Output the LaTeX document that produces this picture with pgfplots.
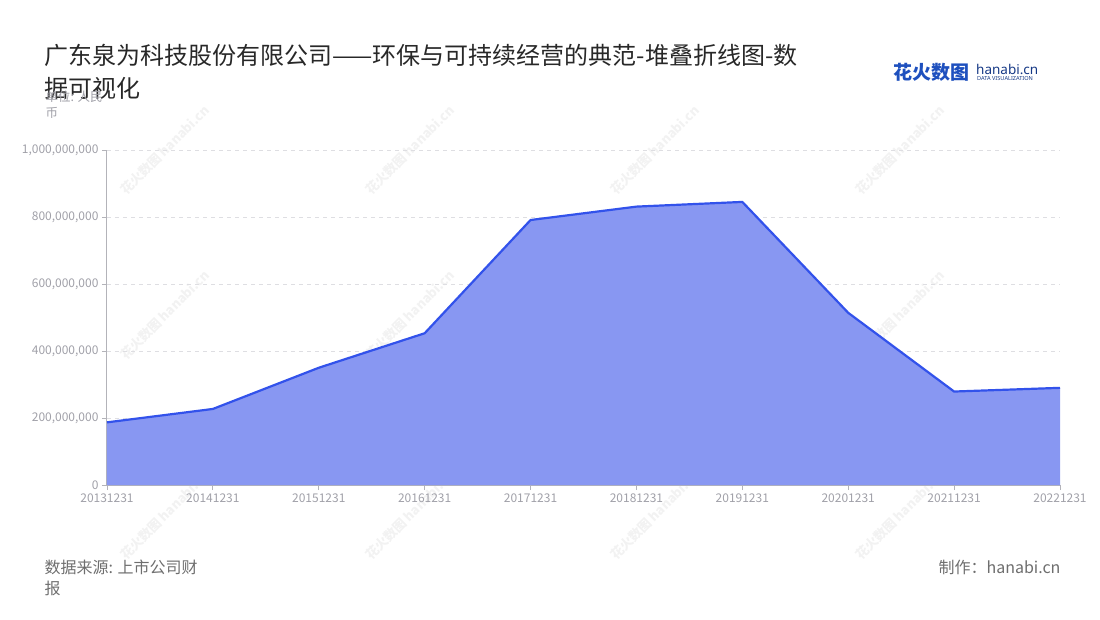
\documentclass[border=0pt]{standalone}
\usepackage{pgfplots}
\pgfplotsset{compat=1.18}
\usepackage{fontspec}
\setmainfont{Noto Sans CJK SC}
\newfontfamily\latinfont{Noto Sans}
\definecolor{linec}{RGB}{50,82,235}
\definecolor{fillc}{RGB}{136,151,242}
\definecolor{tickc}{RGB}{160,160,168}
\definecolor{gridc}{RGB}{222,222,226}
\definecolor{titlec}{RGB}{40,40,40}
\definecolor{notec}{RGB}{110,110,110}
\definecolor{logoc}{RGB}{30,80,190}
\begin{document}
\begin{tikzpicture}[x=1pt,y=-1pt]
\path[use as bounding box] (0,0) rectangle (1100,620);
% watermarks
\foreach \wx in {165,410,655,900}{
  \foreach \wy in {150,315,515}{
    \node[rotate=45,text=gray!10,font=\fontsize{13}{13}\selectfont\bfseries] at (\wx,\wy) {花火数图\,hanabi.cn};
  }
}
\begin{axis}[
  at={(107pt,-485pt)}, anchor=south west,
  scale only axis, width=953pt, height=335pt,
  xmin=0, xmax=9, ymin=0, ymax=1000000000,
  xtick={0,...,9},
  xticklabels={20131231,20141231,20151231,20161231,20171231,20181231,20191231,20201231,20211231,20221231},
  ytick={0,200000000,400000000,600000000,800000000,1000000000},
  scaled y ticks=false,
  yticklabel style={/pgf/number format/.cd, fixed, 1000 sep={,}, precision=0, assume math mode=true},
  ticklabel style={font=\fontsize{12}{12}\selectfont, text=tickc},
  xticklabel style={/pgf/number format/assume math mode=true},
  axis x line*=bottom, axis y line*=left,
  axis line style={draw=tickc!80, line width=1pt},
  tick style={draw=tickc!80, line width=0.8pt},
  tick align=outside, major tick length=5pt,
  ymajorgrids, grid style={draw=gridc, dashed, dash pattern=on 4pt off 4pt, line width=0.8pt},
  clip=false,
]
\addplot[fill=fillc, draw=none] coordinates {
(0,187000000) (1,227000000) (2,350000000) (3,453000000) (4,791000000)
(5,831000000) (6,845000000) (7,514000000) (8,279000000) (9,290000000)
} \closedcycle;
\addplot[linec, line width=2.2pt, mark=none] coordinates {
(0,187000000) (1,227000000) (2,350000000) (3,453000000) (4,791000000)
(5,831000000) (6,845000000) (7,514000000) (8,279000000) (9,290000000)
};
\end{axis}
% title
\node[anchor=west, text=titlec, font=\fontsize{24}{24}\selectfont] at (41,55) {广东泉为科技股份有限公司——环保与可持续经营的典范-堆叠折线图-数};
\node[anchor=west, text=titlec, font=\fontsize{24}{24}\selectfont] at (41,88) {据可视化};
\node[anchor=west, text=tickc, font=\fontsize{12.5}{12.5}\selectfont] at (42,97) {单位: 人民};
\node[anchor=west, text=tickc, font=\fontsize{12.5}{12.5}\selectfont] at (42,113) {币};
% footer
\node[anchor=west, text=notec, font=\fontsize{16}{16}\selectfont] at (41,567) {数据来源: 上市公司财};
\node[anchor=west, text=notec, font=\fontsize{16}{16}\selectfont] at (41,588) {报};
\node[anchor=east, text=notec, font=\fontsize{16}{16}\selectfont] at (1064,567) {制作：hanabi.cn};
% logo
\node[anchor=west, text=logoc, font=\fontsize{19}{19}\selectfont\bfseries, inner sep=0] at (893,72) {花火数图};
\node[anchor=west, text=logoc!70!black, font=\latinfont\fontsize{13.5}{13.5}\selectfont\bfseries, inner sep=0] at (976,69) {hanabi.cn};
\node[anchor=west, text=logoc!70!black, font=\latinfont\fontsize{5.6}{5.6}\selectfont, inner sep=0] at (977,79) {DATA VISUALIZATION};
\end{tikzpicture}
\end{document}
